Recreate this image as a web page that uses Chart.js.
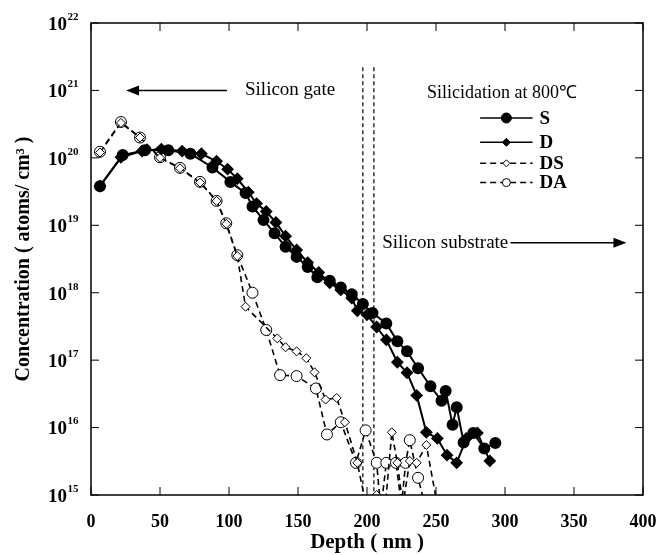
<!DOCTYPE html>
<html>
<head>
<meta charset="utf-8">
<script src="https://cdn.jsdelivr.net/npm/chart.js@4.4.0/dist/chart.umd.min.js"></script>
<style>
  html, body { margin: 0; padding: 0; background: #fff; }
</style>
</head>
<body>
<canvas id="profile" width="659" height="555"></canvas>
<script>
/* ── Data ───────────────────────────────────────────────── */
const depthS = [6.5, 23, 39, 56, 72, 88, 101, 112, 117, 125, 133, 141, 149, 157, 164, 173, 181, 189, 197, 204, 214, 222, 229, 237, 246, 254, 257, 262, 265, 270, 277, 285, 293];
const concS  = [3.8e19, 1.1e20, 1.3e20, 1.3e20, 1.15e20, 7.2e19, 4.4e19, 3.0e19, 1.9e19, 1.2e19, 7.6e18, 4.8e18, 3.4e18, 2.4e18, 1.7e18, 1.5e18, 1.2e18, 9.5e17, 6.8e17, 5.0e17, 3.5e17, 1.9e17, 1.35e17, 7.6e16, 4.1e16, 2.5e16, 3.5e16, 1.1e16, 2.0e16, 6.0e15, 8.3e15, 4.9e15, 5.9e15];

const depthD = [6.5, 21.7, 37, 51, 66, 80, 91, 99, 106, 114, 120, 127, 134, 141, 149, 157, 165, 173, 181, 189, 193, 200, 207, 214, 222, 229, 236, 243, 251, 258, 265, 272, 280, 289];
const concD  = [3.8e19, 1.02e20, 1.26e20, 1.35e20, 1.26e20, 1.15e20, 8.9e19, 6.8e19, 4.9e19, 3.1e19, 2.1e19, 1.6e19, 1.1e19, 6.9e18, 4.3e18, 2.8e18, 2.0e18, 1.4e18, 1.1e18, 8.3e17, 5.4e17, 4.7e17, 3.1e17, 2.0e17, 9.3e16, 6.5e16, 3.0e16, 8.5e15, 6.9e15, 3.9e15, 3.0e15, 6.9e15, 8.3e15, 3.2e15];

const depthDS = [6.5, 21.7, 35.5, 50, 64.5, 79, 91, 98, 106, 112, 135, 141, 149, 156, 162, 170, 178, 184, 193, 200, 207, 213, 218, 222, 226, 231, 236, 243, 251];
const concDS  = [1.2e20, 3.3e20, 2.0e20, 1.0e20, 7.0e19, 4.3e19, 2.3e19, 1.05e19, 3.5e18, 6.2e17, 2.1e17, 1.55e17, 1.35e17, 1.07e17, 6.6e16, 2.6e16, 2.75e16, 1.2e16, 3.0e15, 6e14, 1.0e15, 6e14, 8.5e15, 3.0e15, 7e14, 3.2e15, 3.0e15, 5.5e15, 7e14];

const depthDA = [6.5, 21.7, 35.5, 50, 64.5, 79, 91, 98, 106, 117, 127, 137, 149, 163, 171, 181, 192, 199, 207, 210, 214, 221, 225, 228, 231, 237, 242];
const concDA  = [1.23e20, 3.4e20, 2.0e20, 1.02e20, 7.1e19, 4.4e19, 2.3e19, 1.07e19, 3.6e18, 1.0e18, 2.8e17, 6.0e16, 5.8e16, 3.8e16, 7.9e15, 1.2e16, 3.0e15, 9.1e15, 3.0e15, 6e14, 3.0e15, 3.0e15, 7e14, 3.0e15, 6.5e15, 1.8e15, 7e14];

// silicide / substrate boundary markers
const boundaryDepths = [197, 205];
const boundaryConc   = [2.2e21, 1e15];

const xTicks   = [0, 50, 100, 150, 200, 250, 300, 350, 400];
const yDecades = [1e15, 1e16, 1e17, 1e18, 1e19, 1e20, 1e21, 1e22];
const yExponents = ['15', '16', '17', '18', '19', '20', '21', '22'];

const seriesNames = ['S', 'D', 'DS', 'DA'];

/* ── Styles ─────────────────────────────────────────────── */
const SERIF = '"Liberation Serif", "Times New Roman", serif';
const INK   = '#000';

const pairs = (xs, ys) => xs.map((x, i) => ({ x: x, y: ys[i] }));
const radius = r => ctx => (ctx.raw && ctx.raw.y < 1e15) ? 0 : r;

const boundaryDataset = depth => ({
    label           : 'boundary',
    data            : pairs([depth, depth], boundaryConc),
    borderColor     : INK,
    borderWidth     : 1.2,
    borderDash      : [4, 3],
    pointRadius     : 0,
});

/* ── Overlay: frame, inward ticks, y labels, annotations ── */
const overlay = {
    id : 'overlay',
    afterDraw(chart) {
        const { ctx, chartArea: a, scales: { x, y } } = chart;
        ctx.save();

        // frame
        ctx.strokeStyle = INK;
        ctx.lineWidth = 1.5;
        ctx.strokeRect(a.left, a.top, a.right - a.left, a.bottom - a.top);

        // inward ticks
        ctx.lineWidth = 1;
        xTicks.forEach(v => {
            const px = x.getPixelForValue(v);
            ctx.beginPath();
            ctx.moveTo(px, a.bottom); ctx.lineTo(px, a.bottom - 8);
            ctx.moveTo(px, a.top);    ctx.lineTo(px, a.top + 8);
            ctx.stroke();
        });
        yDecades.forEach(v => {
            const py = y.getPixelForValue(v);
            ctx.beginPath();
            ctx.moveTo(a.left, py);  ctx.lineTo(a.left + 8, py);
            ctx.moveTo(a.right, py); ctx.lineTo(a.right - 8, py);
            ctx.stroke();
        });

        // y tick labels 10^n
        ctx.fillStyle = INK;
        yDecades.forEach((v, i) => {
            const py = y.getPixelForValue(v);
            ctx.font = 'bold 19px ' + SERIF;
            ctx.textAlign = 'right';
            ctx.textBaseline = 'middle';
            ctx.fillText('10', 67, py + 2);
            ctx.font = 'bold 11px ' + SERIF;
            ctx.textAlign = 'left';
            ctx.fillText(yExponents[i], 67.5, py - 6);
        });

        // y title
        ctx.save();
        ctx.translate(24, (a.top + a.bottom) / 2);
        ctx.rotate(-Math.PI / 2);
        ctx.font = 'bold 20px ' + SERIF;
        ctx.textAlign = 'center';
        ctx.textBaseline = 'middle';
        ctx.fillText('Concentration ( atoms/ cm\u00B3 )', 0, 0);
        ctx.restore();

        // arrows
        const arrow = (x0, x1, yv) => {
            const px0 = x.getPixelForValue(x0);
            const px1 = x.getPixelForValue(x1);
            const py  = y.getPixelForValue(yv);
            const dir = Math.sign(px1 - px0);
            ctx.lineWidth = 1.5;
            ctx.beginPath();
            ctx.moveTo(px0, py); ctx.lineTo(px1 - dir * 10, py);
            ctx.stroke();
            ctx.beginPath();
            ctx.moveTo(px1, py);
            ctx.lineTo(px1 - dir * 13, py - 5);
            ctx.lineTo(px1 - dir * 13, py + 5);
            ctx.closePath();
            ctx.fill();
        };
        arrow(98.5, 25.4, 1e21);
        arrow(304, 388, 5.5e18);

        // annotation text
        ctx.textAlign = 'left';
        ctx.textBaseline = 'middle';
        ctx.font = '19px ' + SERIF;
        ctx.fillText('Silicon gate', x.getPixelForValue(111.6), y.getPixelForValue(1e21));
        ctx.fillText('Silicon substrate', x.getPixelForValue(211), y.getPixelForValue(5.5e18));
        ctx.font = '18px ' + SERIF;
        ctx.fillText('Silicidation at 800\u2103', x.getPixelForValue(243.5), y.getPixelForValue(9.1e20));

        // legend
        const rows = [3.9e20, 1.7e20, 8.3e19, 4.3e19];
        const lx0 = x.getPixelForValue(282), lx1 = x.getPixelForValue(320);
        const lxm = (lx0 + lx1) / 2;
        chart.data.datasets.slice(0, 4).forEach((ds, i) => {
            const py = y.getPixelForValue(rows[i]);
            ctx.save();
            ctx.lineWidth = 1.5;
            ctx.setLineDash(ds.borderDash || []);
            ctx.beginPath();
            ctx.moveTo(lx0, py); ctx.lineTo(lx1, py);
            ctx.stroke();
            ctx.restore();
            ctx.lineWidth = 1;
            ctx.fillStyle = ds.pointBackgroundColor;
            ctx.beginPath();
            if (ds.pointStyle === 'rectRot') {
                const r = i === 1 ? 4 : 3.5;
                ctx.moveTo(lxm, py - r); ctx.lineTo(lxm + r, py);
                ctx.lineTo(lxm, py + r); ctx.lineTo(lxm - r, py);
                ctx.closePath();
            } else {
                ctx.arc(lxm, py, i === 0 ? 5 : 4, 0, Math.PI * 2);
            }
            ctx.fill();
            ctx.stroke();
            ctx.fillStyle = INK;
            ctx.font = 'bold 19px ' + SERIF;
            ctx.fillText(seriesNames[i], x.getPixelForValue(325), py + 1);
        });

        ctx.restore();
    },
};

/* ── Chart ──────────────────────────────────────────────── */
new Chart(document.getElementById('profile'), {
    type : 'line',
    data : {
        datasets : [
            {
                label           : seriesNames[0],
                data            : pairs(depthS, concS),
                borderColor     : INK,
                borderWidth     : 2,
                pointStyle      : 'circle',
                pointRadius     : radius(5),
                pointBackgroundColor : INK,
                pointBorderColor     : INK,
            },
            {
                label           : seriesNames[1],
                data            : pairs(depthD, concD),
                borderColor     : INK,
                borderWidth     : 2,
                pointStyle      : 'rectRot',
                pointRadius     : radius(5),
                pointBackgroundColor : INK,
                pointBorderColor     : INK,
            },
            {
                label           : seriesNames[2],
                data            : pairs(depthDS, concDS),
                borderColor     : INK,
                borderWidth     : 1.6,
                borderDash      : [6, 4],
                pointStyle      : 'rectRot',
                pointRadius     : radius(4.5),
                pointBorderWidth: 1,
                pointBackgroundColor : '#fff',
                pointBorderColor     : INK,
            },
            {
                label           : seriesNames[3],
                data            : pairs(depthDA, concDA),
                borderColor     : INK,
                borderWidth     : 1.6,
                borderDash      : [6, 4],
                pointStyle      : 'circle',
                pointRadius     : radius(5.5),
                pointBorderWidth: 1,
                pointBackgroundColor : '#fff',
                pointBorderColor     : INK,
            },
            boundaryDataset(boundaryDepths[0]),
            boundaryDataset(boundaryDepths[1]),
        ],
    },
    options : {
        responsive : false,
        animation  : false,
        devicePixelRatio : 1,
        layout : { padding: { top: 23, right: 16, left: 0, bottom: 0 } },
        plugins : {
            legend  : { display: false },
            tooltip : { enabled: false },
        },
        scales : {
            x : {
                type  : 'linear',
                min   : 0,
                max   : 400,
                grid  : { display: false },
                border: { display: false },
                afterBuildTicks : s => { s.ticks = xTicks.map(v => ({ value: v })); },
                afterFit : s => { s.height = 60; s.paddingLeft = 0; s.paddingRight = 0; },
                ticks : {
                    color   : INK,
                    padding : 9,
                    maxRotation : 0,
                    font    : { family: SERIF, size: 18, weight: 'bold' },
                },
                title : {
                    display : true,
                    text    : 'Depth ( nm )',
                    color   : INK,
                    padding : { top: 0, bottom: 0 },
                    font    : { family: SERIF, size: 21, weight: 'bold' },
                },
            },
            y : {
                type  : 'logarithmic',
                min   : 1e15,
                max   : 1e22,
                grid  : { display: false },
                border: { display: false },
                afterBuildTicks : s => { s.ticks = yDecades.map(v => ({ value: v })); },
                afterFit : s => { s.width = 91; s.paddingTop = 0; s.paddingBottom = 0; },
                ticks : { display: false },
            },
        },
    },
    plugins : [overlay],
});
</script>
</body>
</html>
